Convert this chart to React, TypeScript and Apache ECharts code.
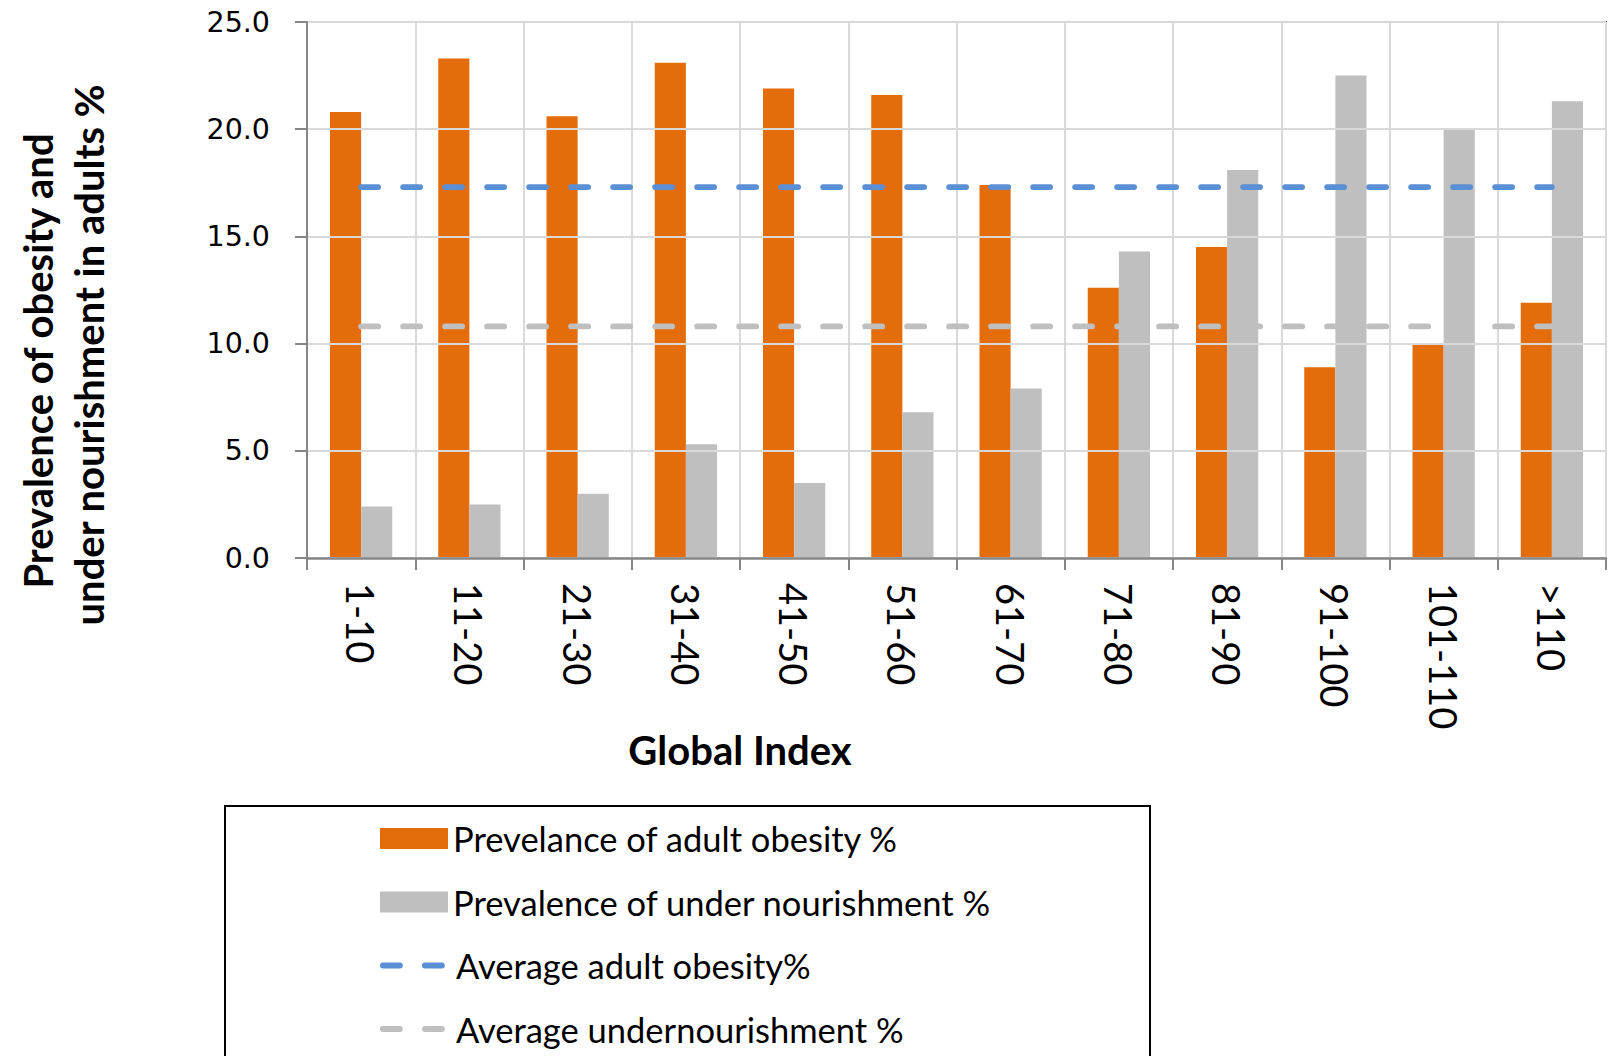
import React, { useEffect, useRef } from "react";
import * as echarts from "echarts";

// Global Index bands
const categories = ["1-10", "11-20", "21-30", "31-40", "41-50", "51-60", "61-70", "71-80", "81-90", "91-100", "101-110", ">110"];

// Prevalence values (%) per band
const obesity = [20.8, 23.3, 20.6, 23.1, 21.9, 21.6, 17.4, 12.6, 14.5, 8.9, 10.0, 11.9];
const undernourishment = [2.4, 2.5, 3.0, 5.3, 3.5, 6.8, 7.9, 14.3, 18.1, 22.5, 20.0, 21.3];

// Averages over all bands, drawn as flat dashed lines
const avgObesity = [17.3, 17.3, 17.3, 17.3, 17.3, 17.3, 17.3, 17.3, 17.3, 17.3, 17.3, 17.3];
const avgUndernourishment = [10.8, 10.8, 10.8, 10.8, 10.8, 10.8, 10.8, 10.8, 10.8, 10.8, 10.8, 10.8];

const yTicks = { min: 0, max: 25, interval: 5 };

const names = {
  obesity: "Prevelance of adult obesity %",
  under: "Prevalence of under nourishment %",
  avgOb: "Average adult obesity%",
  avgUn: "Average undernourishment %",
};

const ORANGE = "#E46C0A";
const GRAY = "#BFBFBF";
const BLUE = "#5A8FD5";
const AXIS_GRAY = "#868686";
const GRID_GRAY = "#D9D9D9";
const DASH = [17, 25];
const DASH_WIDTH = 5.8;

const legendText = { fontFamily: "Lato", fontSize: 34.5, color: "#000", lineHeight: 40 };
const hiddenSymbol = { color: "rgba(0,0,0,0)", borderWidth: 0, opacity: 0 };

export default function App() {
  const ref = useRef<HTMLDivElement>(null);

  useEffect(() => {
    document.body.style.margin = "0";
    if (!ref.current) return;
    const chart = echarts.init(ref.current, null, { renderer: "svg" });

    const legendBase = {
      orient: "vertical",
      left: 380,
      padding: 0,
      itemWidth: 68,
      itemHeight: 21,
      itemGap: 23.5,
      textStyle: legendText,
    };

    const option: any = {
      animation: false,
      backgroundColor: "#ffffff",
      grid: { left: 307, top: 22, right: 11, bottom: 498, containLabel: false },
      xAxis: [
        {
          type: "category",
          data: categories,
          boundaryGap: true,
          axisLine: { show: true, lineStyle: { color: AXIS_GRAY, width: 2.5 } },
          axisTick: { show: true, interval: 0, length: 12, inside: false, lineStyle: { color: AXIS_GRAY, width: 2 } },
          axisLabel: {
            interval: 0,
            rotate: -90,
            margin: 25,
            fontFamily: "Lato",
            fontSize: 38,
            color: "#000",
          },
          splitLine: { show: true, interval: 0, lineStyle: { color: GRID_GRAY, width: 2 } },
          z: 3,
        },
        {
          type: "category",
          data: categories,
          position: "top",
          axisLine: { show: true, lineStyle: { color: "#111", width: 2 } },
          axisTick: { show: false },
          axisLabel: { show: false },
          splitLine: { show: false },
        },
      ],
      yAxis: [
        {
          type: "value",
          min: yTicks.min,
          max: yTicks.max,
          interval: yTicks.interval,
          axisLine: { show: true, lineStyle: { color: AXIS_GRAY, width: 2 } },
          axisTick: { show: true, length: 12, lineStyle: { color: AXIS_GRAY, width: 2 } },
          axisLabel: {
            margin: 37,
            fontFamily: "DejaVu Sans",
            fontSize: 28.5,
            color: "#000",
            formatter: (v: number) => v.toFixed(1),
          },
          splitLine: { show: true, lineStyle: { color: GRID_GRAY, width: 2 } },
          z: 3,
        },
        {
          type: "value",
          min: yTicks.min,
          max: yTicks.max,
          interval: yTicks.interval,
          position: "right",
          axisLine: { show: true, lineStyle: { color: "#111", width: 2 } },
          axisTick: { show: false },
          axisLabel: { show: false },
          splitLine: { show: false },
        },
      ],
      legend: [
        {
          ...legendBase,
          top: 818.5,
          data: [
            { name: names.obesity, icon: "rect" },
            { name: names.under, icon: "rect" },
          ],
        },
        {
          ...legendBase,
          top: 945.5,
          data: [
            {
              name: names.avgOb,
              itemStyle: hiddenSymbol,
              lineStyle: { width: DASH_WIDTH, type: DASH, cap: "round", color: BLUE },
            },
            {
              name: names.avgUn,
              itemStyle: hiddenSymbol,
              lineStyle: { width: DASH_WIDTH, type: DASH, cap: "round", color: GRAY },
            },
          ],
        },
      ],
      graphic: [
        {
          type: "rect",
          shape: { x: 225, y: 806, width: 925, height: 400 },
          style: { fill: "none", stroke: "#000", lineWidth: 2 },
          z: -1,
        },
        {
          type: "text",
          x: 740,
          y: 750,
          style: {
            text: "Global Index",
            fontFamily: "Lato",
            fontWeight: "bold",
            fontSize: 40,
            fill: "#000",
            textAlign: "center",
            textVerticalAlign: "middle",
          },
        },
        {
          type: "text",
          x: 38,
          y: 361,
          rotation: Math.PI / 2,
          style: {
            text: "Prevalence of obesity and",
            fontFamily: "Lato",
            fontWeight: "bold",
            fontSize: 40,
            fill: "#000",
            textAlign: "center",
            textVerticalAlign: "middle",
          },
        },
        {
          type: "text",
          x: 89,
          y: 355,
          rotation: Math.PI / 2,
          style: {
            text: "under nourishment in adults %",
            fontFamily: "Lato",
            fontWeight: "bold",
            fontSize: 40,
            fill: "#000",
            textAlign: "center",
            textVerticalAlign: "middle",
          },
        },
      ],
      series: [
        {
          name: names.obesity,
          type: "bar",
          data: obesity,
          barGap: "0%",
          barCategoryGap: "42.5%",
          itemStyle: { color: ORANGE },
        },
        {
          name: names.under,
          type: "bar",
          data: undernourishment,
          itemStyle: { color: GRAY },
        },
        {
          name: names.avgOb,
          type: "line",
          data: avgObesity,
          symbol: "none",
          lineStyle: { color: BLUE, width: DASH_WIDTH, type: DASH, cap: "round" },
          itemStyle: { color: BLUE },
          z: 5,
        },
        {
          name: names.avgUn,
          type: "line",
          data: avgUndernourishment,
          symbol: "none",
          lineStyle: { color: GRAY, width: DASH_WIDTH, type: DASH, cap: "round" },
          itemStyle: { color: GRAY },
          z: 5,
        },
      ],
    };

    chart.setOption(option);
    return () => chart.dispose();
  }, []);

  return <div ref={ref} style={{ width: 1617, height: 1056 }} />;
}
